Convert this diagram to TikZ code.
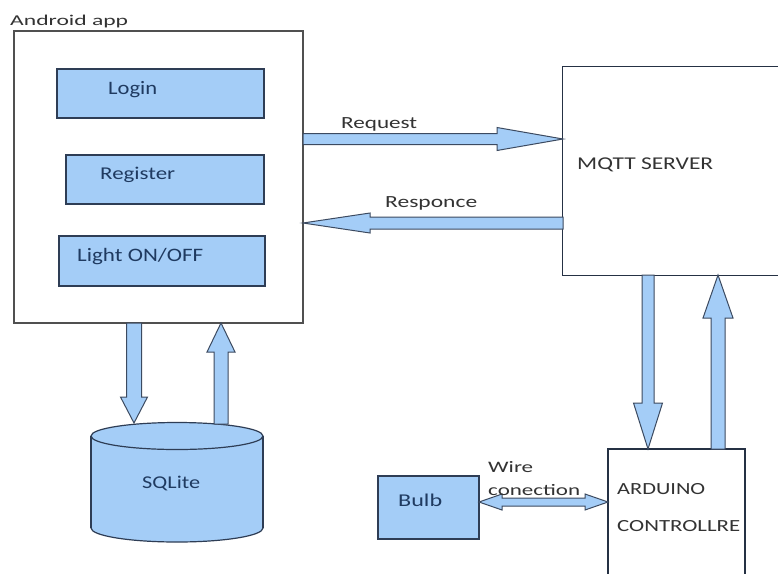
\documentclass[tikz,border=0pt]{standalone}
\usepackage{fontspec}
\setmainfont{Carlito}
\usetikzlibrary{calc}
\definecolor{boxfill}{HTML}{A4CDF7}
\definecolor{boxline}{HTML}{2E3D55}
\definecolor{appline}{HTML}{505050}
\definecolor{arrline}{HTML}{3C4A60}
\definecolor{navytxt}{HTML}{1F3A60}
\definecolor{greytxt}{HTML}{333333}
\newcommand{\fw}[3]{\fontsize{#1}{#1}\selectfont\resizebox{#2pt}{\height}{#3}}
\newcommand{\blockarrow}[5]{%
  \coordinate (ba-c) at ($(#2)!#5!(#1)$);
  \draw[blk] ($(#1)!#3!90:(#2)$) -- ($(ba-c)!#3!90:(#2)$) -- ($(ba-c)!#4!90:(#2)$) -- (#2)
    -- ($(ba-c)!#4!-90:(#2)$) -- ($(ba-c)!#3!-90:(#2)$) -- ($(#1)!#3!-90:(#2)$) -- cycle;}
\newcommand{\dblarrow}[5]{%
  \coordinate (da-a) at ($(#1)!#5!(#2)$);
  \coordinate (da-b) at ($(#2)!#5!(#1)$);
  \draw[blk] (#1) -- ($(da-a)!#4!90:(#2)$) -- ($(da-a)!#3!90:(#2)$) -- ($(da-b)!#3!90:(#2)$)
    -- ($(da-b)!#4!90:(#2)$) -- (#2) -- ($(da-b)!#4!-90:(#2)$) -- ($(da-b)!#3!-90:(#2)$)
    -- ($(da-a)!#3!-90:(#2)$) -- ($(da-a)!#4!-90:(#2)$) -- cycle;}
\begin{document}
\begin{tikzpicture}[x=1pt,y=-1pt,
  appbox/.style={draw=appline, line width=1.3pt, fill=white, inner sep=0pt},
  bluebox/.style={draw=boxline, line width=1.2pt, fill=boxfill, inner sep=0pt},
  whitebox/.style={draw=boxline!80!black, line width=1.2pt, fill=white, inner sep=0pt},
  blk/.style={draw=arrline, line width=1pt, fill=boxfill, line join=miter},
  txt/.style={inner sep=0pt, anchor=base west},
  ntxt/.style={txt, text=navytxt},
  gtxt/.style={txt, text=greytxt}]
\useasboundingbox (0,0) rectangle (778,573);
\fill[white] (0,0) rectangle (778,573);

% Android app
\node[appbox, minimum width=289pt, minimum height=292pt] (android) at (158.5,177) {};
\node[gtxt] (androidlbl) at (10,25) {\fw{15}{118}{Android app}};
\node[bluebox, minimum width=207pt, minimum height=49pt] (login) at (160.5,93.5) {};
\node[ntxt] (logintxt) at (108,94) {\fw{19}{49}{Login}};
\node[bluebox, minimum width=198pt, minimum height=49pt] (register) at (165,179.5) {};
\node[ntxt] (registertxt) at (100,179) {\fw{18}{75}{Register}};
\node[bluebox, minimum width=206pt, minimum height=50pt] (light) at (162,261) {};
\node[ntxt] (lighttxt) at (77,261) {\fw{19}{126}{Light ON/OFF}};

% MQTT server (runs off the right edge)
\node[inner sep=0pt, minimum width=240pt, minimum height=208pt] (mqtt) at (683,171) {};
\draw[boxline!80!black, line width=1.2pt] (mqtt.north east) -- (mqtt.north west) -- (mqtt.south west) -- (mqtt.south east);
\node[gtxt] (mqtttxt) at (577,169) {\fw{18}{136}{MQTT SERVER}};

% Arduino
\node[whitebox, minimum width=137pt, minimum height=150pt] (arduino) at (676.5,524) {};
\node[gtxt] (ard1) at (617,494) {\fw{17}{88}{ARDUINO}};
\node[gtxt] (ard2) at (617,531) {\fw{17}{123}{CONTROLLRE}};

% Bulb
\node[bluebox, minimum width=101pt, minimum height=63pt] (bulb) at (428.5,507.5) {};
\node[ntxt] (bulbtxt) at (398,506) {\fw{18}{44}{Bulb}};

% SQLite cylinder
\coordinate (cyltop) at (177,436);
\coordinate (cylbot) at (177,528);
\draw[draw=boxline, line width=1.2pt, fill=boxfill] (cylbot) ellipse [x radius=86, y radius=14];
\fill[boxfill] (91,436) rectangle (263,528);
\draw[boxline, line width=1.2pt] (91,436) -- (91,528) (263,436) -- (263,528);
\draw[draw=boxline, line width=1.2pt, fill=boxfill] (cyltop) ellipse [x radius=86, y radius=13.5];
\node[ntxt] (sqlite) at (142,488) {\fw{18}{58}{SQLite}};

% connectors
\coordinate (req-s) at (303,139);
\coordinate (req-e) at (563,139);
\blockarrow{req-s}{req-e}{5.5pt}{11.5pt}{66pt}
\node[gtxt] (reqtxt) at (341,128) {\fw{17}{76}{Request}};

\coordinate (res-s) at (563,223);
\coordinate (res-e) at (303,223);
\blockarrow{res-s}{res-e}{6pt}{10pt}{67pt}
\node[gtxt] (restxt) at (385,207) {\fw{17}{92}{Responce}};

\coordinate (md-s) at (648,275);
\coordinate (md-e) at (648,449);
\blockarrow{md-s}{md-e}{6pt}{14.5pt}{46pt}
\coordinate (mu-s) at (718,449);
\coordinate (mu-e) at (718,275);
\blockarrow{mu-s}{mu-e}{7pt}{15pt}{43pt}

\coordinate (sd-s) at (134,323);
\coordinate (sd-e) at (134,423);
\blockarrow{sd-s}{sd-e}{7.5pt}{13.5pt}{26pt}
\coordinate (su-s) at (221,424);
\coordinate (su-e) at (221,323);
\blockarrow{su-s}{su-e}{7pt}{14pt}{29pt}

\coordinate (w-a) at (479,502);
\coordinate (w-b) at (608,502);
\dblarrow{w-a}{w-b}{4pt}{8pt}{23pt}
\node[gtxt] (wire1) at (488,472) {\fw{16}{45}{Wire}};
\node[gtxt] (wire2) at (488,495) {\fw{16}{92}{conection}};
\end{tikzpicture}
\end{document}
